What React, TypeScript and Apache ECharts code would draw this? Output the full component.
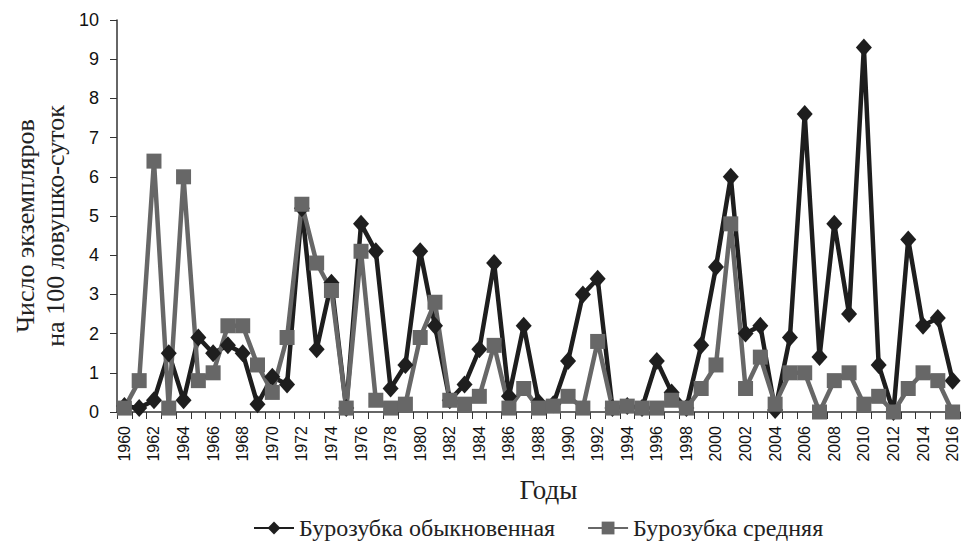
import React, { useEffect, useRef } from "react";
import * as echarts from "echarts";

const years: string[] = [];
for (let y = 1960; y <= 2016; y++) years.push(String(y));

const common: number[] = [
  0.15, 0.1, 0.3, 1.5, 0.3, 1.9, 1.5, 1.7, 1.5, 0.2,
  0.9, 0.7, 5.2, 1.6, 3.3, 0.1, 4.8, 4.1, 0.6, 1.2,
  4.1, 2.2, 0.3, 0.7, 1.6, 3.8, 0.4, 2.2, 0.25, 0.2,
  1.3, 3.0, 3.4, 0.1, 0.15, 0.1, 1.3, 0.5, 0.1, 1.7,
  3.7, 6.0, 2.0, 2.2, 0.05, 1.9, 7.6, 1.4, 4.8, 2.5,
  9.3, 1.2, 0.0, 4.4, 2.2, 2.4, 0.8,
];

const middle: number[] = [
  0.1, 0.8, 6.4, 0.1, 6.0, 0.8, 1.0, 2.2, 2.2, 1.2,
  0.5, 1.9, 5.3, 3.8, 3.1, 0.1, 4.1, 0.3, 0.1, 0.2,
  1.9, 2.8, 0.3, 0.2, 0.4, 1.7, 0.1, 0.6, 0.1, 0.15,
  0.4, 0.1, 1.8, 0.1, 0.15, 0.1, 0.1, 0.3, 0.1, 0.6,
  1.2, 4.8, 0.6, 1.4, 0.2, 1.0, 1.0, 0.0, 0.8, 1.0,
  0.2, 0.4, 0.0, 0.6, 1.0, 0.8, 0.0,
];

const seriesNames = ["Бурозубка обыкновенная", "Бурозубка средняя"];
const yTitleLines = ["Число экземпляров", "на 100 ловушко-суток"];
const xTitle = "Годы";

export default function App() {
  const ref = useRef<HTMLDivElement>(null);
  useEffect(() => {
    if (!ref.current) return;
    const chart = echarts.init(ref.current, null, { renderer: "svg" });
    const serif = "'Liberation Serif', 'Times New Roman', serif";
    const sans = "'Liberation Sans', Arial, sans-serif";
    const black = "#1e1e1e";
    const gray = "#676767";
    chart.setOption({
      animation: false,
      backgroundColor: "#ffffff",
      grid: { left: 117, right: 2, top: 20, bottom: 131 },
      legend: {
        top: 511,
        left: 248,
        itemWidth: 40,
        itemHeight: 16,
        itemGap: 32,
        textStyle: { fontFamily: serif, fontSize: 24, color: "#222" },
        data: seriesNames,
      },
      graphic: [
        {
          type: "text",
          x: 25,
          y: 226,
          rotation: Math.PI / 2,
          style: {
            text: yTitleLines[0],
            font: `26px ${serif}`,
            fill: "#222",
            textAlign: "center",
            textVerticalAlign: "middle",
          },
        },
        {
          type: "text",
          x: 55,
          y: 226,
          rotation: Math.PI / 2,
          style: {
            text: yTitleLines[1],
            font: `26px ${serif}`,
            fill: "#222",
            textAlign: "center",
            textVerticalAlign: "middle",
          },
        },
      ],
      xAxis: {
        type: "category",
        data: years,
        boundaryGap: true,
        name: xTitle,
        nameLocation: "middle",
        nameGap: 64,
        nameTextStyle: { fontFamily: serif, fontSize: 27, color: "#222", padding: [0, 0, 0, 20] },
        axisLine: { lineStyle: { color: "#333", width: 1.5 } },
        axisTick: { show: true, interval: 0, length: 7, lineStyle: { color: "#333" } },
        axisLabel: {
          interval: 1,
          rotate: 90,
          fontFamily: sans,
          fontSize: 16,
          color: "#111",
          margin: 14,
        },
      },
      yAxis: {
        type: "value",
        min: 0,
        max: 10,
        interval: 1,
        axisLine: { show: true, lineStyle: { color: "#333", width: 1.5 } },
        axisTick: { show: true, length: 7, lineStyle: { color: "#333" } },
        splitLine: { show: false },
        axisLabel: { fontFamily: sans, fontSize: 18, color: "#111", margin: 18 },
      },
      series: [
        {
          name: seriesNames[0],
          type: "line",
          data: common,
          showAllSymbol: true,
          symbol: "diamond",
          symbolSize: [16, 18],
          lineStyle: { color: black, width: 4.5 },
          itemStyle: { color: black },
        },
        {
          name: seriesNames[1],
          type: "line",
          data: middle,
          showAllSymbol: true,
          symbol: "rect",
          symbolSize: 15,
          lineStyle: { color: gray, width: 4.5 },
          itemStyle: { color: gray },
        },
      ],
    });
    return () => chart.dispose();
  }, []);
  return (
    <div
      ref={ref}
      style={{ position: "fixed", left: 0, top: 0, width: 962, height: 543 }}
    />
  );
}
